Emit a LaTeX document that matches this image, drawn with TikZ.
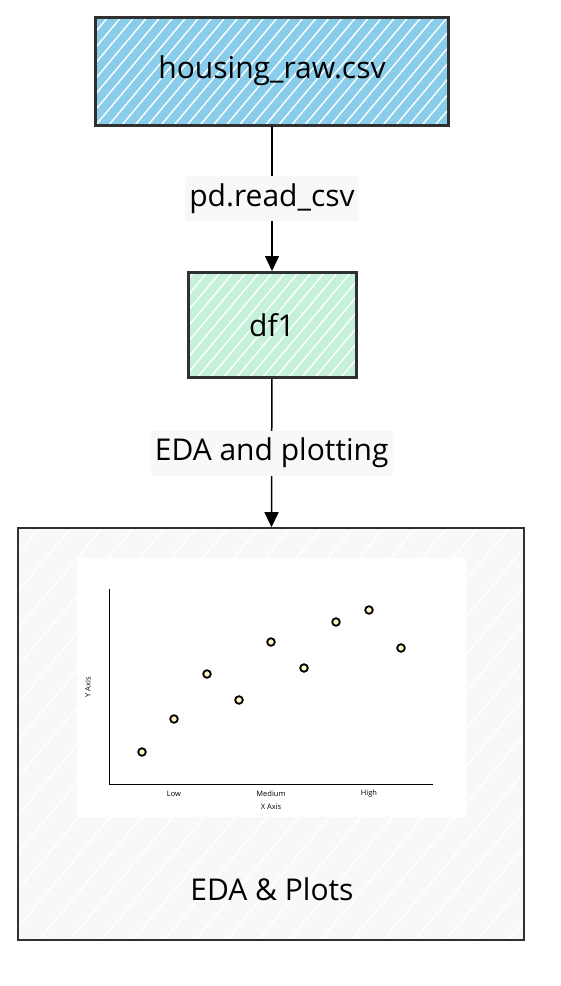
\documentclass[tikz,border=0pt]{standalone}
\usepackage{fontspec}
\setmainfont{Open Sans}
\usetikzlibrary{arrows.meta, patterns.meta}

\definecolor{rawblue}{HTML}{8ACDEA}
\definecolor{dfgreen}{HTML}{C4F1D8}
\definecolor{boxgray}{HTML}{F8F8F8}
\definecolor{edgegray}{HTML}{303030}
\definecolor{dotyellow}{HTML}{FFF3C4}

\begin{document}
\begin{tikzpicture}[x=1pt, y=-1pt,
  box/.style={draw=edgegray, line width=3pt, rectangle, inner sep=0pt,
    font=\fontsize{30}{36}\selectfont},
  hatch/.style={preaction={fill=#1},
    pattern={Lines[angle=50, distance=10pt, line width=1.4pt]}, pattern color=white},
  flow/.style={line width=1.5pt, -{Triangle[width=14pt, length=15pt]}},
  edgelabel/.style={fill=boxgray, inner xsep=4pt, inner ysep=1pt, minimum height=45,
    font=\fontsize{30}{36}\selectfont},
  axislbl/.style={font=\fontsize{7.5}{9}\selectfont, inner sep=0pt}]

  \useasboundingbox (0,0) rectangle (560,986);

  % Boxes
  \node[box, hatch=rawblue, minimum width=353, minimum height=108] (raw) at (272,71) {housing\_raw.csv};
  \node[box, hatch=dfgreen, minimum width=168, minimum height=105] (df) at (272,325) {df1};
  \node[box, draw=edgegray, line width=2.7pt, minimum width=506, minimum height=412,
        preaction={fill=boxgray},
        pattern={Lines[angle=50, distance=24pt, line width=1.6pt]}, pattern color=white] (eda) at (271,734) {};

  % Flow
  \draw[flow] (raw) -- node[edgelabel] (readlbl) {pd.read\_csv} (df);
  \draw[flow] (df) -- node[edgelabel] (edalbl) {EDA and plotting} (eda);

  % Plot picture inside the EDA box
  \fill[white] (77,558) rectangle (466,817);
  \coordinate (origin) at (109,784);
  \draw[line width=1pt] (109,589) -- (origin) -- (433,784);

  \foreach \px/\py in {142/752, 174/719, 207/674, 239/700, 271/642,
                       304/668, 336/622, 369/610, 401/648}
    \filldraw[fill=dotyellow, draw=black, line width=1.8pt] (\px,\py) circle (3.8);

  \node[axislbl] (low) at (174,794) {Low};
  \node[axislbl] (medium) at (271,794) {Medium};
  \node[axislbl] (high) at (369,794) {High};
  \node[axislbl] (xaxis) at (271,807) {X Axis};
  \node[axislbl, rotate=90] (yaxis) at (88,687) {Y Axis};

  \node[font=\fontsize{30}{36}\selectfont] (edatxt) at (272,889) {EDA \& Plots};

\end{tikzpicture}
\end{document}
